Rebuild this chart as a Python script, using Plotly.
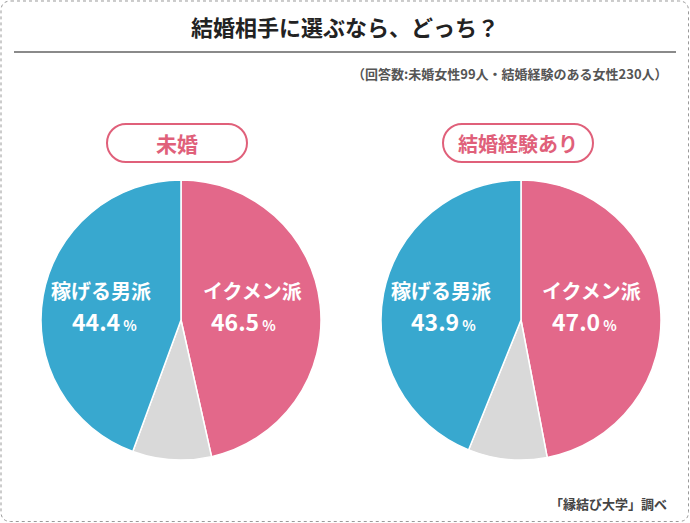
import plotly.graph_objects as go

categories = ["イクメン派", "その他", "稼げる男派"]
unmarried = [46.5, 9.1, 44.4]
married = [47.0, 9.1, 43.9]
group_labels = ["未婚", "結婚経験あり"]
title = "結婚相手に選ぶなら、どっち？"
subtitle = "（回答数:未婚女性99人・結婚経験のある女性230人）"
source = "「縁結び大学」調べ"

W, H = 690, 523
PINK = "#E3688A"
BLUE = "#38A8CF"
GREY = "#D9D9D9"
FONT = "Noto Sans CJK JP"

def px(x):
    return x / W

def py(y):
    return 1 - y / H

def P(x, y):
    return f"{px(x):.5f},{py(y):.5f}"

fig = go.Figure()
centers = [181, 521]
R = 140
for cx, vals in zip(centers, [unmarried, married]):
    fig.add_trace(go.Pie(
        labels=categories, values=vals, sort=False, direction="clockwise",
        rotation=0, textinfo="none", hoverinfo="label+percent",
        marker=dict(colors=[PINK, GREY, BLUE], line=dict(color="white", width=1.5)),
        domain=dict(x=[px(cx - R), px(cx + R)], y=[py(320 + R), py(320 - R)]),
        showlegend=False,
    ))

ann = []
def add(x, y, text, size, color, anchor="center"):
    ann.append(dict(x=px(x), y=py(y), text=text, showarrow=False, xanchor=anchor,
                    yanchor="middle", font=dict(size=size, color=color, family=FONT),
                    xref="paper", yref="paper"))

add(345, 26, f"<b>{title}</b>", 22, "#222")
add(670, 74, f"<b>{subtitle}</b>", 13, "#555", "right")
add(669, 503, f"<b>{source}</b>", 13, "#444", "right")

pill_centers = [177, 518]
pill_w = [140, 150]
for pc, lab, fs in zip(pill_centers, group_labels, [21, 20]):
    add(pc, 143, f"<b>{lab}</b>", fs, "#E0607A")

pos = [((252, 243), (101, 104)), ((591, 584), (441, 444))]
for (pk, bl), vals in zip(pos, [unmarried, married]):
    for xs, name, v in [(pk, categories[0], vals[0]), (bl, categories[2], vals[2])]:
        add(xs[0], 290, f"<b>{name}</b>", 20, "white")
        add(xs[1], 321, f"<b>{v:.1f}<span style='font-size:14px'> %</span></b>", 23, "white")

shapes = []
r = 10
x0, y0, x1, y1 = 1, 1, W - 1.5, H - 1.5
path = (f"M {P(x0+r,y0)} L {P(x1-r,y0)} Q {P(x1,y0)} {P(x1,y0+r)} L {P(x1,y1-r)} "
        f"Q {P(x1,y1)} {P(x1-r,y1)} L {P(x0+r,y1)} Q {P(x0,y1)} {P(x0,y1-r)} "
        f"L {P(x0,y0+r)} Q {P(x0,y0)} {P(x0+r,y0)} Z")
shapes.append(dict(type="path", path=path, xref="paper", yref="paper",
                   line=dict(color="#999", width=1, dash="dot"), layer="below"))
shapes.append(dict(type="line", x0=px(14), x1=px(676), y0=py(52), y1=py(52),
                   xref="paper", yref="paper", line=dict(color="#8a8a8a", width=2)))
k = 0.5523
for pc, pw in zip(pill_centers, pill_w):
    h = 38
    rr = h / 2
    a, b = pc - pw / 2, pc + pw / 2
    t, btm = 143 - h / 2, 143 + h / 2
    m = 143
    p = (f"M {P(a+rr,t)} L {P(b-rr,t)} "
         f"C {P(b-rr+rr*k,t)} {P(b,m-rr*k)} {P(b,m)} "
         f"C {P(b,m+rr*k)} {P(b-rr+rr*k,btm)} {P(b-rr,btm)} "
         f"L {P(a+rr,btm)} "
         f"C {P(a+rr-rr*k,btm)} {P(a,m+rr*k)} {P(a,m)} "
         f"C {P(a,m-rr*k)} {P(a+rr-rr*k,t)} {P(a+rr,t)} Z")
    shapes.append(dict(type="path", path=p, xref="paper", yref="paper",
                       line=dict(color="#E0607A", width=2), fillcolor="white"))

fig.update_layout(
    width=W, height=H, margin=dict(l=0, r=0, t=0, b=0),
    paper_bgcolor="white", plot_bgcolor="rgba(0,0,0,0)",
    annotations=ann, shapes=shapes,
    font=dict(family=FONT),
)
fig.write_html("out.html", config={"displayModeBar": False},
               post_script="document.body.style.margin='0';document.body.style.overflow='hidden';")
